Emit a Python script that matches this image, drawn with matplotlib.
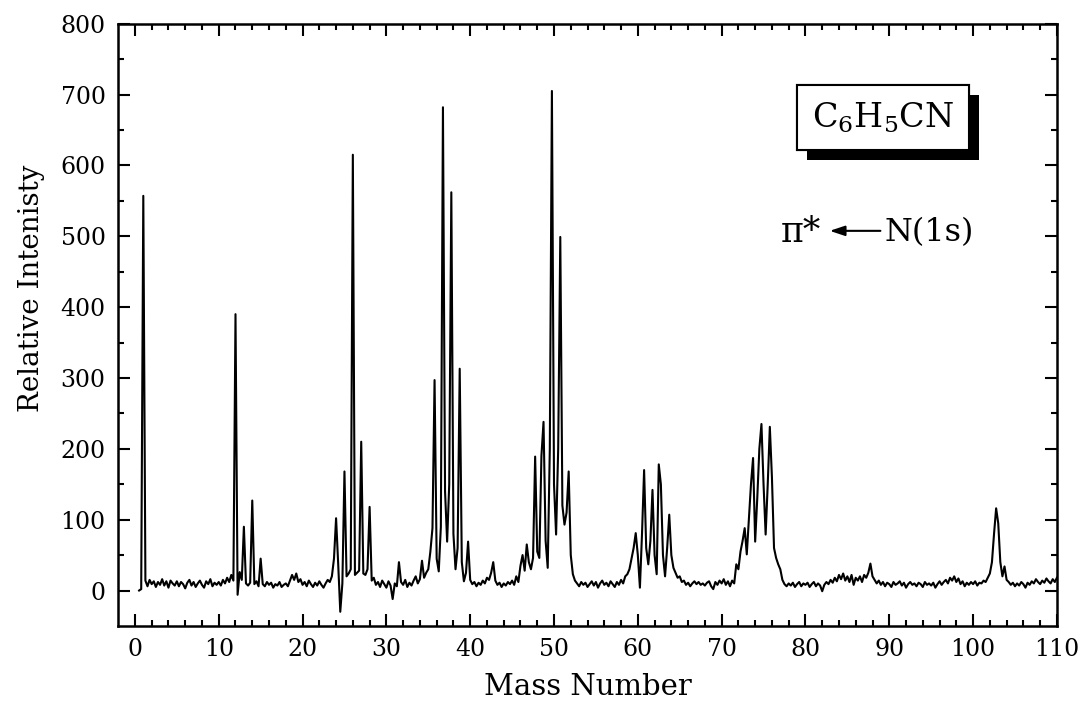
#!/usr/bin/env python3
"""Mass spectrum of C6H5CN after pi* <- N(1s) excitation."""

import matplotlib
matplotlib.use("Agg")

import matplotlib.pyplot as plt
import matplotlib.patheffects as pe
import numpy as np

# Intensity on a 0.25 mass-unit grid (0.0 ... 110.0).
# One row = 5 mass units (20 samples).
nan = np.nan
intensity = [
    nan, nan, 0, 2, 557, 14, 6, 15, 9, 13, 5, 12, 8, 16, 7, 13, 4, 14, 10, 7,              # 0-5
    13, 6, 12, 9, 3, 11, 15, 7, 12, 5, 10, 14, 8, 4, 13, 9, 16, 6, 11, 8,                  # 5-10
    12, 7, 15, 10, 18, 12, 22, 14, 390, -6, 26, 15, 90, 10, 7, 11, 127, 9, 13, 6,          # 10-15
    45, 9, 6, 12, 8, 11, 4, 9, 7, 12, 5, 8, 10, 6, 14, 22, 15, 24, 12, 16,                 # 15-20
    8, 12, 6, 14, 9, 5, 11, 7, 13, 8, 4, 10, 15, 12, 20, 45, 102, 38, -30, 10,             # 20-25
    168, 20, 24, 30, 615, 22, 25, 28, 210, 24, 22, 30, 118, 14, 18, 8, 12, 5, 14, 9,       # 25-30
    4, 13, 7, -12, 10, 6, 40, 12, 8, 15, 5, 11, 7, 14, 20, 10, 16, 42, 18, 25,             # 30-35
    30, 55, 88, 297, 45, 27, 90, 682, 140, 69, 150, 562, 80, 30, 60, 313, 40, 13, 25, 69,  # 35-40
    15, 9, 12, 6, 11, 8, 14, 10, 18, 15, 25, 40, 14, 8, 11, 5, 10, 7, 12, 9,               # 40-45
    14, 8, 20, 12, 35, 50, 28, 65, 40, 30, 46, 189, 55, 46, 190, 238, 70, 32, 200, 705,    # 45-50
    150, 79, 200, 499, 120, 93, 110, 168, 50, 23, 14, 10, 6, 12, 8, 11, 5, 9, 13, 7,       # 50-55
    12, 4, 10, 14, 8, 11, 6, 13, 9, 5, 12, 8, 15, 10, 20, 23, 30, 45, 60, 81,              # 55-60
    50, 4, 80, 170, 60, 37, 70, 142, 50, 23, 178, 150, 50, 20, 60, 107, 50, 32, 25, 18,    # 60-65
    20, 12, 14, 8, 11, 6, 10, 13, 9, 12, 8, 10, 7, 11, 13, 6, 2, 12, 8, 14,                # 65-70
    10, 16, 8, 13, 6, 14, 10, 37, 30, 55, 70, 88, 51, 100, 150, 187, 69, 130, 200, 235,    # 70-75
    150, 79, 150, 231, 160, 60, 46, 37, 30, 15, 9, 6, 10, 7, 11, 5, 9, 12, 6, 10,          # 75-80
    8, 11, 5, 9, 12, 6, 10, 7, -1, 8, 12, 9, 15, 11, 18, 13, 22, 16, 24, 14,               # 80-85
    20, 12, 22, 8, 18, 14, 20, 12, 22, 18, 25, 38, 20, 15, 10, 14, 8, 12, 6, 11,           # 85-90
    9, 5, 12, 8, 10, 13, 7, 11, 4, 9, 12, 8, 10, 6, 11, 9, 5, 12, 8, 10,                   # 90-95
    7, 11, 4, 9, 13, 8, 12, 15, 10, 18, 14, 20, 12, 17, 9, 13, 6, 11, 8, 12,               # 95-100
    9, 13, 7, 11, 10, 14, 12, 18, 24, 40, 80, 116, 95, 40, 20, 34, 15, 12, 8, 11,          # 100-105
    6, 10, 7, 12, 9, 4, 11, 8, 13, 10, 16, 12, 9, 14, 11, 17, 13, 10, 16, 12,              # 105-110
    18,
]
mass = np.arange(len(intensity)) * 0.25

plt.rcParams["font.family"] = "DejaVu Serif"
plt.rcParams["mathtext.fontset"] = "dejavuserif"

fig = plt.figure(figsize=(10.84, 7.17), dpi=100)
ax = fig.add_axes([0.109, 0.127, 0.866, 0.840])

ax.plot(mass, intensity, color="black", linewidth=1.5)

ax.set_xlim(-2, 110)
ax.set_ylim(-50, 800)
ax.set_xticks(np.arange(0, 111, 10))
ax.set_xticks(np.arange(0, 111, 2), minor=True)
ax.set_yticks(np.arange(0, 801, 100))
ax.set_yticks(np.arange(0, 801, 50), minor=True)

for side in ax.spines.values():
    side.set_linewidth(1.8)
ax.tick_params(which="both", direction="in", top=True, right=True, width=1.5)
ax.tick_params(which="major", length=8.5, labelsize=17, pad=9)
ax.tick_params(which="minor", length=4.5)

ax.set_xlabel("Mass Number", fontsize=21, labelpad=8)
ax.set_ylabel("Relative Intenisty", fontsize=20)
ax.yaxis.set_label_coords(-0.078, 0.56)

# molecule label in a box with a drop shadow
box = ax.text(0.815, 0.844, r"C$_6$H$_5$CN", transform=ax.transAxes,
              fontsize=24, ha="center", va="center",
              bbox=dict(boxstyle="square,pad=0.45", facecolor="white",
                        edgecolor="black", linewidth=1.5))
box.get_bbox_patch().set_path_effects(
    [pe.withSimplePatchShadow(offset=(7, -7), shadow_rgbFace="black", alpha=1.0),
     pe.Normal()])

# excitation label
ax.text(0.706, 0.654, "π*", transform=ax.transAxes, fontsize=25,
        ha="left", va="center")
ax.text(0.8166, 0.654, "N(1s)", transform=ax.transAxes, fontsize=23,
        ha="left", va="center")
ax.annotate("", xy=(0.758, 0.656), xytext=(0.812, 0.656),
            xycoords="axes fraction",
            arrowprops=dict(arrowstyle="-|>,head_length=0.9,head_width=0.3",
                            color="black", lw=1.5, shrinkA=0, shrinkB=0))

fig.savefig("out.png", dpi=100)
